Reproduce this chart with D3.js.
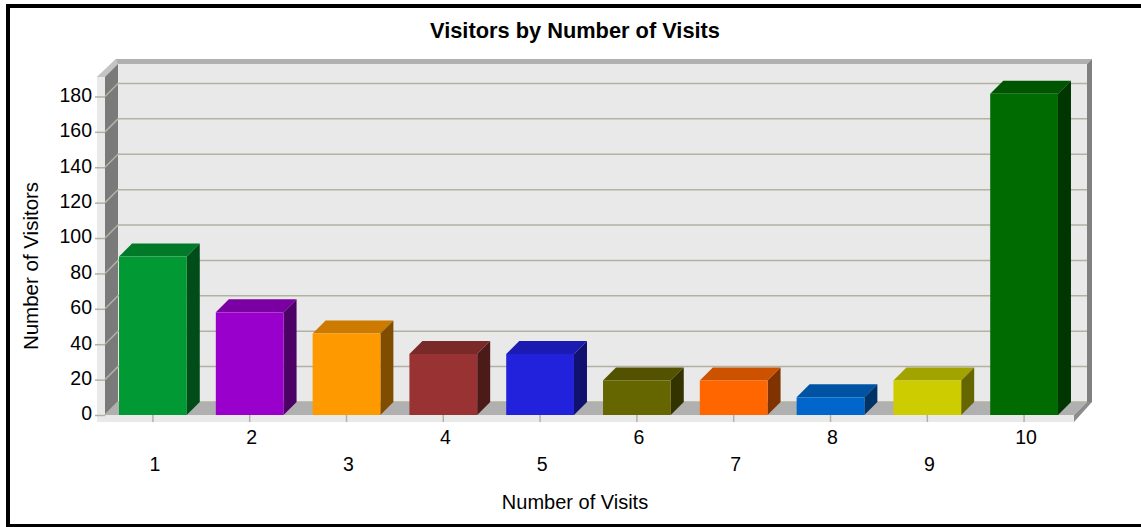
<!DOCTYPE html>
<html>
<head>
<meta charset="utf-8">
<title>Visitors by Number of Visits</title>
<script src="https://cdn.jsdelivr.net/npm/d3@7"></script>
<style>
  html, body { margin: 0; padding: 0; background: #fff; overflow: hidden; }
  text { font-family: "Liberation Sans", Arial, sans-serif; fill: #000; }
</style>
</head>
<body>
<div id="chart"></div>
<script>
let visits = ["1", "2", "3", "4", "5", "6", "7", "8", "9", "10"];
let visitors = [89.5, 58, 46, 34.5, 34.5, 19.5, 19.5, 10, 19.5, 181.5];
let barColors = ["#009933", "#9900cc", "#ff9900", "#993333", "#2222dd", "#666600", "#ff6600", "#0066cc", "#cccc00", "#006b00"];
let yTicks = [0, 20, 40, 60, 80, 100, 120, 140, 160, 180];

let width = 1141, height = 527;
let depth = 13;
let plotLeft = 105, plotRight = 1074, plotBottom = 415, plotTop = 77;

let svg = d3.select("#chart").append("svg")
  .attr("width", width)
  .attr("height", height)
  .style("display", "block");

let x = d3.scaleBand()
  .domain(visits)
  .range([plotLeft - 0.5, plotRight - 1.5])
  .paddingInner(0.3)
  .paddingOuter(0.15);

let y = d3.scaleLinear()
  .domain([0, 191])
  .range([plotBottom, plotTop]);

function poly(points, fill) {
  svg.append("polygon")
    .attr("points", points.map(function(p) { return p.join(","); }).join(" "))
    .attr("fill", fill);
}

function shade(color, k) {
  let c = d3.rgb(color);
  return d3.rgb(c.r * k, c.g * k, c.b * k).formatHex();
}

/* Рамка: справа и снизу уходит за край картинки */
svg.append("rect")
  .attr("x", 8).attr("y", 6)
  .attr("width", 1140).attr("height", 520)
  .attr("fill", "#fff")
  .attr("stroke", "#000")
  .attr("stroke-width", 4);

/* Стены */
// задняя стена
poly([[plotLeft + depth, plotTop - depth], [plotRight + depth, plotTop - depth], [plotRight + depth, plotBottom - depth], [plotLeft + depth, plotBottom - depth]], "#e9e9e9");
// верхняя кромка
poly([[plotLeft + depth - 2, plotTop - depth - 5], [plotRight + 18, plotTop - depth - 5], [plotRight + 13, plotTop - depth], [plotLeft + depth, plotTop - depth], [plotLeft, plotTop], [plotLeft - 8, plotTop]], "#b0b0b0");
poly([[plotLeft - 8, plotTop], [plotLeft + depth - 2, plotTop - depth - 5], [plotLeft + depth, plotTop - depth], [plotLeft, plotTop]], "#c4c4c4");
// левая стена
poly([[plotLeft, plotTop], [plotLeft + depth, plotTop - depth], [plotLeft + depth, plotBottom - depth], [plotLeft, plotBottom]], "#7a7a7a");
poly([[plotLeft - 8, plotTop], [plotLeft, plotTop], [plotLeft, plotBottom], [plotLeft - 8, plotBottom]], "#e9e9e9");
// правая стена
poly([[plotRight + depth, plotTop - depth], [plotRight + 18, plotTop - depth - 5], [plotRight + 18, plotBottom - depth], [plotRight + depth, plotBottom - depth]], "#808080");
// пол
poly([[plotLeft, plotBottom], [plotLeft + depth, plotBottom - depth], [plotRight + depth, plotBottom - depth], [plotRight, plotBottom]], "#b0b0b0");
poly([[plotLeft - 8, plotBottom], [plotRight, plotBottom], [plotRight, plotBottom + 7], [plotLeft - 8, plotBottom + 7]], "#e9e9e9");
poly([[plotRight, plotBottom], [plotRight + depth, plotBottom - depth], [plotRight + 18, plotBottom - depth], [plotRight, plotBottom + 7]], "#8c8c8c");

/* Сетка */
svg.append("g").selectAll("path")
  .data(yTicks)
  .enter().append("path")
  .attr("d", function(d) {
    return "M" + plotLeft + "," + y(d) + "L" + (plotLeft + depth) + "," + (y(d) - depth) + "L" + (plotRight + depth) + "," + (y(d) - depth);
  })
  .attr("fill", "none")
  .attr("stroke", "#b3b1a3")
  .attr("stroke-width", 1.5);

/* Оси */
let yAxis = svg.append("g")
  .attr("transform", "translate(" + plotLeft + ",0)")
  .call(d3.axisLeft(y).tickValues(yTicks).tickSize(10).tickPadding(3));

let xAxis = svg.append("g")
  .attr("transform", "translate(0," + plotBottom + ")")
  .call(d3.axisBottom(x).tickSize(7).tickPadding(0));

yAxis.select(".domain").remove();
xAxis.select(".domain").remove();
yAxis.selectAll("line").attr("stroke", "#b3b1a3").attr("stroke-width", 1.5);
xAxis.selectAll("line").attr("stroke", "#b3b1a3").attr("stroke-width", 1.5);
yAxis.selectAll("text")
  .style("font-size", "19.5px")
  .attr("y", -1)
  .attr("dy", "0.3em");
xAxis.selectAll("text")
  .style("font-size", "19.5px")
  .attr("x", 2)
  .attr("y", function(d, i) { return i % 2 == 0 ? 42 : 15; });

/* Столбцы */
let bars = svg.append("g").selectAll("g")
  .data(visitors)
  .enter().append("g");

bars.append("polygon")
  .attr("fill", function(d, i) { return shade(barColors[i], 0.8); })
  .attr("points", function(d, i) {
    let x0 = x(visits[i]), x1 = x0 + x.bandwidth(), t = y(d);
    return [[x0, t], [x0 + depth, t - depth], [x1 + depth, t - depth], [x1, t]].join(" ");
  });

bars.append("polygon")
  .attr("fill", function(d, i) { return shade(barColors[i], 0.5); })
  .attr("points", function(d, i) {
    let x1 = x(visits[i]) + x.bandwidth(), t = y(d);
    return [[x1, t], [x1 + depth, t - depth], [x1 + depth, y(0) - depth], [x1, y(0)]].join(" ");
  });

bars.append("rect")
  .attr("x", function(d, i) { return x(visits[i]); })
  .attr("y", function(d) { return y(d); })
  .attr("width", x.bandwidth())
  .attr("height", function(d) { return y(0) - y(d); })
  .attr("fill", function(d, i) { return barColors[i]; });

/* Подписи */
svg.append("text")
  .attr("x", 575).attr("y", 38)
  .attr("text-anchor", "middle")
  .style("font-size", "21.8px")
  .style("font-weight", "bold")
  .text("Visitors by Number of Visits");

svg.append("text")
  .attr("x", 575).attr("y", 509)
  .attr("text-anchor", "middle")
  .style("font-size", "20px")
  .text("Number of Visits");

svg.append("text")
  .attr("transform", "translate(38,266) rotate(-90)")
  .attr("text-anchor", "middle")
  .style("font-size", "20.5px")
  .text("Number of Visitors");
</script>
</body>
</html>
